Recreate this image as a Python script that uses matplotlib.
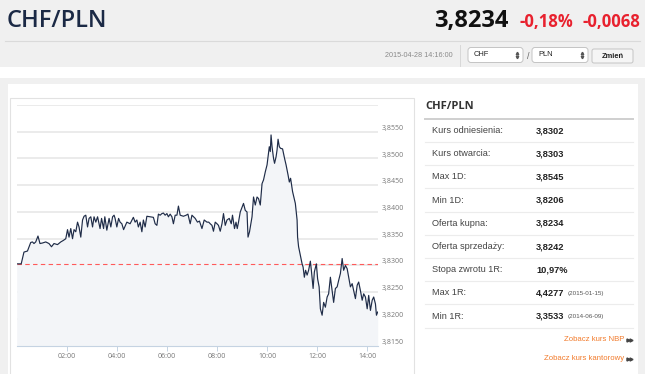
"""
CHF/PLN - notowania dzienne (2015-04-28)
Odtworzenie widoku strony: naglowek, wykres intraday i tabela z kursami.
"""

import matplotlib
matplotlib.use("Agg")
import matplotlib.pyplot as plt
from matplotlib.patches import Rectangle, FancyBboxPatch


# =========================
# 1. Dane
# =========================
godziny = [
    0.00, 0.18, 0.29, 0.43, 0.56, 0.63, 0.69, 0.76, 0.85, 0.93, 1.03, 1.16,
    1.29, 1.39, 1.49, 1.63, 1.76, 1.87, 1.96, 2.03, 2.09, 2.16, 2.23, 2.29,
    2.36, 2.43, 2.49, 2.56, 2.63, 2.69, 2.76, 2.83, 2.89, 2.96, 3.03, 3.09,
    3.16, 3.23, 3.33, 3.39, 3.47, 3.52, 3.60, 3.69, 3.76, 3.83, 3.89, 3.93,
    4.00, 4.07, 4.13, 4.20, 4.27, 4.40, 4.53, 4.66, 4.73, 4.80, 4.86, 4.93,
    5.00, 5.06, 5.13, 5.20, 5.33, 5.46, 5.53, 5.60, 5.66, 5.73, 5.80, 5.86,
    5.93, 6.00, 6.06, 6.13, 6.20, 6.26, 6.33, 6.40, 6.46, 6.53, 6.66, 6.77,
    6.84, 6.93, 7.00, 7.13, 7.22, 7.30, 7.40, 7.49, 7.60, 7.67, 7.73, 7.80,
    7.86, 7.93, 8.00, 8.06, 8.13, 8.20, 8.26, 8.33, 8.40, 8.49, 8.57, 8.62,
    8.70, 8.76, 8.81, 8.86, 8.93, 9.06, 9.13, 9.20, 9.24, 9.30, 9.40, 9.46,
    9.53, 9.60, 9.66, 9.73, 9.80, 9.86, 9.93, 10.00, 10.04, 10.09, 10.13,
    10.16, 10.20, 10.26, 10.30, 10.36, 10.40, 10.44, 10.49, 10.54, 10.62,
    10.70, 10.76, 10.84, 10.89, 10.94, 11.02, 11.10, 11.13, 11.20, 11.22,
    11.26, 11.33, 11.40, 11.44, 11.49, 11.54, 11.60, 11.66, 11.73, 11.77,
    11.84, 11.89, 11.97, 12.02, 12.08, 12.13, 12.20, 12.26, 12.33, 12.40,
    12.46, 12.53, 12.60, 12.66, 12.73, 12.80, 12.86, 12.93, 13.00, 13.06,
    13.13, 13.20, 13.26, 13.33, 13.40, 13.46, 13.53, 13.60, 13.66, 13.73,
    13.80, 13.86, 13.93, 14.00, 14.06, 14.13, 14.20, 14.26, 14.33, 14.37,
    14.42,
]

kurs = [
    3.8303, 3.8303, 3.8325, 3.8327, 3.8343, 3.8344, 3.8341, 3.8344, 3.8355,
    3.8341, 3.8342, 3.8344, 3.8341, 3.8335, 3.8341, 3.8339, 3.8344, 3.8347,
    3.8350, 3.8367, 3.8353, 3.8369, 3.8350, 3.8367, 3.8363, 3.8381, 3.8372,
    3.8353, 3.8385, 3.8392, 3.8394, 3.8372, 3.8388, 3.8391, 3.8372, 3.8391,
    3.8381, 3.8391, 3.8369, 3.8388, 3.8369, 3.8391, 3.8366, 3.8388, 3.8372,
    3.8391, 3.8394, 3.8388, 3.8372, 3.8388, 3.8381, 3.8378, 3.8367, 3.8381,
    3.8378, 3.8390, 3.8381, 3.8385, 3.8372, 3.8381, 3.8363, 3.8385, 3.8372,
    3.8392, 3.8391, 3.8390, 3.8378, 3.8375, 3.8396, 3.8394, 3.8397, 3.8398,
    3.8394, 3.8397, 3.8391, 3.8396, 3.8391, 3.8378, 3.8394, 3.8394, 3.8411,
    3.8394, 3.8392, 3.8394, 3.8396, 3.8378, 3.8394, 3.8388, 3.8381, 3.8383,
    3.8369, 3.8385, 3.8381, 3.8381, 3.8378, 3.8375, 3.8364, 3.8381, 3.8378,
    3.8375, 3.8364, 3.8378, 3.8397, 3.8375, 3.8385, 3.8388, 3.8378, 3.8394,
    3.8369, 3.8381, 3.8369, 3.8381, 3.8400, 3.8416, 3.8403, 3.8400, 3.8353,
    3.8363, 3.8391, 3.8428, 3.8413, 3.8428, 3.8425, 3.8413, 3.8453, 3.8460,
    3.8475, 3.8488, 3.8503, 3.8522, 3.8513, 3.8544, 3.8522, 3.8500, 3.8491,
    3.8503, 3.8516, 3.8536, 3.8522, 3.8519, 3.8518, 3.8500, 3.8488, 3.8469,
    3.8456, 3.8463, 3.8438, 3.8422, 3.8416, 3.8385, 3.8353, 3.8335, 3.8319,
    3.8303, 3.8297, 3.8278, 3.8291, 3.8282, 3.8291, 3.8308, 3.8291, 3.8257,
    3.8288, 3.8303, 3.8275, 3.8260, 3.8219, 3.8207, 3.8231, 3.8222, 3.8241,
    3.8247, 3.8278, 3.8253, 3.8231, 3.8257, 3.8260, 3.8272, 3.8285, 3.8313,
    3.8291, 3.8300, 3.8294, 3.8278, 3.8260, 3.8266, 3.8253, 3.8238, 3.8263,
    3.8269, 3.8253, 3.8235, 3.8247, 3.8241, 3.8219, 3.8244, 3.8216, 3.8235,
    3.8241, 3.8228, 3.8207, 3.8213,
]

kurs_odniesienia = 3.8302

os_y = [3.8150, 3.8200, 3.8250, 3.8300, 3.8350, 3.8400, 3.8450, 3.8500, 3.8550, 3.8600]
os_x = [2, 4, 6, 8, 10, 12, 14]
os_x_etykiety = ['02:00', '04:00', '06:00', '08:00', '10:00', '12:00', '14:00']

tabela_nazwy = [
    'Kurs odniesienia:', 'Kurs otwarcia:', 'Max 1D:', 'Min 1D:', 'Oferta kupna:',
    'Oferta sprzedaży:', 'Stopa zwrotu 1R:', 'Max 1R:', 'Min 1R:',
]
tabela_wartosci = [
    '3,8302', '3,8303', '3,8545', '3,8206', '3,8234',
    '3,8242', '10,97%', '4,4277', '3,3533',
]
tabela_daty = ['', '', '', '', '', '', '', '(2015-01-15)', '(2014-06-09)']

para = 'CHF/PLN'
kurs_biezacy = '3,8234'
zmiana_proc = '-0,18%'
zmiana_abs = '-0,0068'
czas_notowania = '2015-04-28 14:16:00'

W, H = 645, 374
GRANAT = '#1b2945'
CZERWONY = '#e8212e'
POMARANCZ = '#f27b2c'
SZARY_TLO = '#f0f0f0'


# =========================
# 2. Naglowek strony
# =========================
def rysuj_naglowek(bg):
    bg.add_patch(Rectangle((0, 0), W, 67, color=SZARY_TLO, lw=0))
    bg.plot([5, 640], [40.5, 40.5], color='#dadada', lw=0.8)

    bg.text(7, 21, para, fontsize=17, fontweight='semibold', color=GRANAT,
            family='Open Sans', va='center', ha='left')
    bg.text(508, 21, kurs_biezacy, fontsize=17, fontweight='bold', color='#111111',
            family='Open Sans', va='center', ha='right')
    bg.text(519, 22, zmiana_proc, fontsize=12, fontweight='bold', color=CZERWONY,
            family='Open Sans', va='center', ha='left')
    bg.text(640, 22, zmiana_abs, fontsize=12, fontweight='bold', color=CZERWONY,
            family='Open Sans', va='center', ha='right')

    bg.text(453, 55.5, czas_notowania, fontsize=5.2, color='#8a8a8a',
            family='Liberation Sans', va='center', ha='right')
    bg.plot([459.5, 459.5], [45, 66], color='#d8d8d8', lw=0.7)

    # listy rozwijane
    for x0, x1, napis in [(468, 523, 'CHF'), (532, 588, 'PLN')]:
        bg.add_patch(FancyBboxPatch((x0, 47.5), x1 - x0, 15,
                                    boxstyle='round,pad=0,rounding_size=3',
                                    fc='white', ec='#c4c4c4', lw=0.7))
        bg.text(x0 + 6, 54, napis, fontsize=5.4, color='#222222',
                family='Liberation Sans', va='center', ha='left')
        bg.plot([x1 - 6], [53], marker='^', ms=1.8, color='#555555', lw=0)
        bg.plot([x1 - 6], [56.5], marker='v', ms=1.8, color='#555555', lw=0)
    bg.text(528, 56, '/', fontsize=6.5, color='#666666',
            family='Liberation Sans', va='center', ha='center')

    # przycisk
    bg.add_patch(FancyBboxPatch((592, 49), 41, 14,
                                boxstyle='round,pad=0,rounding_size=2',
                                fc='#f5f5f5', ec='#c4c4c4', lw=0.7))
    bg.text(612.5, 56, 'Zmień', fontsize=5.4, fontweight='bold', color='#222222',
            family='Liberation Sans', va='center', ha='center')

    # tlo pod zawartoscia
    bg.add_patch(Rectangle((0, 78), W, 6, color=SZARY_TLO, lw=0))
    bg.add_patch(Rectangle((0, 84), 8, H, color=SZARY_TLO, lw=0))
    bg.add_patch(Rectangle((638, 84), 7, H, color=SZARY_TLO, lw=0))
    bg.add_patch(Rectangle((10, 98), 404, 300, fc='white', ec='#e2e2e2', lw=0.8))


# =========================
# 3. Tabela z kursami
# =========================
def rysuj_tabele(bg):
    bg.text(425, 106.5, para, fontsize=8, fontweight='bold', color='#333333',
            family='Open Sans', va='center', ha='left')
    bg.plot([425, 633], [118.5, 118.5], color='#cfcfcf', lw=1.4)

    for i, (nazwa, wartosc, data) in enumerate(zip(tabela_nazwy, tabela_wartosci, tabela_daty)):
        y = 130.5 + 23.2 * i
        bg.text(432, y, nazwa, fontsize=6.6, color='#444444',
                family='Liberation Sans', va='center', ha='left')
        bg.text(536, y, wartosc, fontsize=6.7, fontweight='bold', color='#222222',
                family='Liberation Sans', va='center', ha='left')
        if data:
            bg.text(568, y + 0.8, data, fontsize=4.5, color='#555555',
                    family='Liberation Sans', va='center', ha='left')
        bg.plot([425, 633], [y + 11.4, y + 11.4], color='#ececec', lw=0.8)

    for y, napis in [(339.5, 'Zobacz kurs NBP'), (358.5, 'Zobacz kurs kantorowy')]:
        bg.text(624, y, napis, fontsize=5.6, color=POMARANCZ,
                family='Liberation Sans', va='center', ha='right')
        bg.plot([627.5, 631], [y, y], marker='>', ms=2.2, color='#444444', lw=0)


# =========================
# 4. Wykres intraday
# =========================
def rysuj_wykres(fig):
    lewo, prawo, gora, dol = 16.7, 377.7, 105, 345.7
    ax = fig.add_axes([lewo / W, 1 - dol / H, (prawo - lewo) / W, (dol - gora) / H])
    ax.set_facecolor('none')

    ax.set_xlim(0, godziny[-1])
    ax.set_ylim(os_y[0], os_y[-1])

    for v in os_y[1:]:
        ax.axhline(v, color='#e6e6e6', lw=1.1, zorder=1)

    ax.fill_between(godziny, kurs, os_y[0], color='#f3f5f8', lw=0, zorder=2)
    ax.plot(godziny, kurs, color='#1f2c48', lw=0.85, zorder=4)
    ax.axhline(kurs_odniesienia, color='#ff5a5a', lw=0.8, ls=(0, (4, 3)), zorder=3)

    for s in ['top', 'right', 'left']:
        ax.spines[s].set_visible(False)
    ax.spines['bottom'].set_color('#c5d3e2')
    ax.spines['bottom'].set_linewidth(0.8)

    ax.set_xticks(os_x)
    ax.set_xticklabels(os_x_etykiety, fontsize=5, color='#777777', family='Open Sans')
    ax.tick_params(axis='x', length=3.5, width=0.7, color='#c5d3e2', pad=2)

    ax.set_yticks([])
    for v in os_y[:-1]:
        ax.annotate(f'{v:.4f}'.replace('.', ','), xy=(1, v), xycoords=('axes fraction', 'data'),
                    xytext=(2.5, 2.5), textcoords='offset points',
                    fontsize=5, color='#777777', family='Open Sans',
                    ha='left', va='center', annotation_clip=False)
    return ax


# =========================
# 5. Program glowny
# =========================
def main():
    fig = plt.figure(figsize=(W / 100, H / 100), dpi=100)
    fig.patch.set_facecolor('white')

    bg = fig.add_axes([0, 0, 1, 1])
    bg.set_xlim(0, W)
    bg.set_ylim(H, 0)
    bg.axis('off')

    rysuj_naglowek(bg)
    rysuj_tabele(bg)
    rysuj_wykres(fig)

    fig.savefig('out.png', dpi=100)


if __name__ == '__main__':
    main()
